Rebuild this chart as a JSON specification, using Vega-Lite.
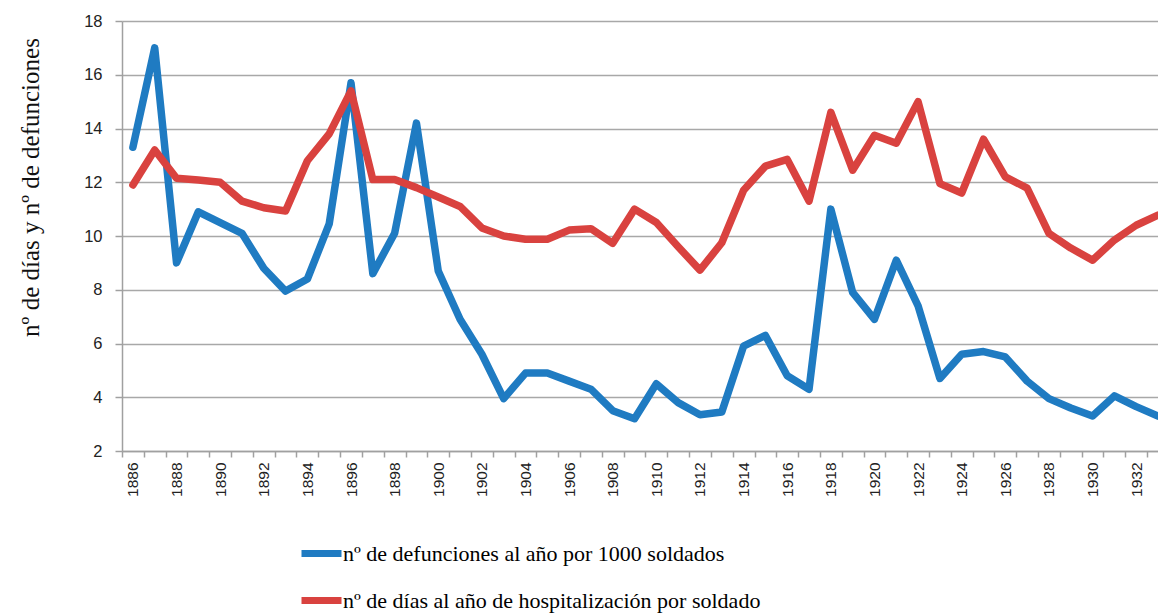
{
  "$schema": "https://vega.github.io/schema/vega-lite/v6.json",
  "width": 1036,
  "height": 430,
  "autosize": {"type": "none"},
  "padding": {"left": 122, "top": 21, "right": 0, "bottom": 162},
  "background": "white",
  "config": {
    "view": {"stroke": null},
    "axis": {"labelFont": "Liberation Sans", "labelColor": "#222", "domainColor": "#a0a0a0", "domainWidth": 1.5, "tickColor": "#a0a0a0", "tickWidth": 1.5},
    "legend": {"labelFont": "Liberation Serif", "labelFontSize": 22, "labelColor": "#000", "labelLimit": 800, "symbolType": "stroke", "symbolSize": 1600, "symbolStrokeWidth": 7, "labelOffset": -2, "rowPadding": 9}
  },
  "data": {"values": [
    {"serie": "def", "year": 1886, "v": 13.3}, {"serie": "def", "year": 1887, "v": 17.0}, {"serie": "def", "year": 1888, "v": 9.0}, {"serie": "def", "year": 1889, "v": 10.9},
    {"serie": "def", "year": 1890, "v": 10.5}, {"serie": "def", "year": 1891, "v": 10.1}, {"serie": "def", "year": 1892, "v": 8.8}, {"serie": "def", "year": 1893, "v": 7.95},
    {"serie": "def", "year": 1894, "v": 8.4}, {"serie": "def", "year": 1895, "v": 10.45}, {"serie": "def", "year": 1896, "v": 15.7}, {"serie": "def", "year": 1897, "v": 8.6},
    {"serie": "def", "year": 1898, "v": 10.1}, {"serie": "def", "year": 1899, "v": 14.2}, {"serie": "def", "year": 1900, "v": 8.7}, {"serie": "def", "year": 1901, "v": 6.9},
    {"serie": "def", "year": 1902, "v": 5.6}, {"serie": "def", "year": 1903, "v": 3.95}, {"serie": "def", "year": 1904, "v": 4.9}, {"serie": "def", "year": 1905, "v": 4.9},
    {"serie": "def", "year": 1906, "v": 4.6}, {"serie": "def", "year": 1907, "v": 4.3}, {"serie": "def", "year": 1908, "v": 3.5}, {"serie": "def", "year": 1909, "v": 3.2},
    {"serie": "def", "year": 1910, "v": 4.5}, {"serie": "def", "year": 1911, "v": 3.8}, {"serie": "def", "year": 1912, "v": 3.35}, {"serie": "def", "year": 1913, "v": 3.45},
    {"serie": "def", "year": 1914, "v": 5.9}, {"serie": "def", "year": 1915, "v": 6.3}, {"serie": "def", "year": 1916, "v": 4.8}, {"serie": "def", "year": 1917, "v": 4.3},
    {"serie": "def", "year": 1918, "v": 11.0}, {"serie": "def", "year": 1919, "v": 7.9}, {"serie": "def", "year": 1920, "v": 6.9}, {"serie": "def", "year": 1921, "v": 9.1},
    {"serie": "def", "year": 1922, "v": 7.4}, {"serie": "def", "year": 1923, "v": 4.7}, {"serie": "def", "year": 1924, "v": 5.6}, {"serie": "def", "year": 1925, "v": 5.7},
    {"serie": "def", "year": 1926, "v": 5.5}, {"serie": "def", "year": 1927, "v": 4.6}, {"serie": "def", "year": 1928, "v": 3.95}, {"serie": "def", "year": 1929, "v": 3.6},
    {"serie": "def", "year": 1930, "v": 3.3}, {"serie": "def", "year": 1931, "v": 4.05}, {"serie": "def", "year": 1932, "v": 3.65}, {"serie": "def", "year": 1933, "v": 3.3},
    {"serie": "dias", "year": 1886, "v": 11.9}, {"serie": "dias", "year": 1887, "v": 13.2}, {"serie": "dias", "year": 1888, "v": 12.15}, {"serie": "dias", "year": 1889, "v": 12.08},
    {"serie": "dias", "year": 1890, "v": 12.0}, {"serie": "dias", "year": 1891, "v": 11.3}, {"serie": "dias", "year": 1892, "v": 11.05}, {"serie": "dias", "year": 1893, "v": 10.93},
    {"serie": "dias", "year": 1894, "v": 12.8}, {"serie": "dias", "year": 1895, "v": 13.8}, {"serie": "dias", "year": 1896, "v": 15.4}, {"serie": "dias", "year": 1897, "v": 12.1},
    {"serie": "dias", "year": 1898, "v": 12.1}, {"serie": "dias", "year": 1899, "v": 11.8}, {"serie": "dias", "year": 1900, "v": 11.45}, {"serie": "dias", "year": 1901, "v": 11.1},
    {"serie": "dias", "year": 1902, "v": 10.3}, {"serie": "dias", "year": 1903, "v": 10.0}, {"serie": "dias", "year": 1904, "v": 9.88}, {"serie": "dias", "year": 1905, "v": 9.88},
    {"serie": "dias", "year": 1906, "v": 10.22}, {"serie": "dias", "year": 1907, "v": 10.27}, {"serie": "dias", "year": 1908, "v": 9.73}, {"serie": "dias", "year": 1909, "v": 11.0},
    {"serie": "dias", "year": 1910, "v": 10.5}, {"serie": "dias", "year": 1911, "v": 9.6}, {"serie": "dias", "year": 1912, "v": 8.73}, {"serie": "dias", "year": 1913, "v": 9.75},
    {"serie": "dias", "year": 1914, "v": 11.7}, {"serie": "dias", "year": 1915, "v": 12.6}, {"serie": "dias", "year": 1916, "v": 12.85}, {"serie": "dias", "year": 1917, "v": 11.3},
    {"serie": "dias", "year": 1918, "v": 14.6}, {"serie": "dias", "year": 1919, "v": 12.45}, {"serie": "dias", "year": 1920, "v": 13.75}, {"serie": "dias", "year": 1921, "v": 13.45},
    {"serie": "dias", "year": 1922, "v": 15.0}, {"serie": "dias", "year": 1923, "v": 11.95}, {"serie": "dias", "year": 1924, "v": 11.6}, {"serie": "dias", "year": 1925, "v": 13.6},
    {"serie": "dias", "year": 1926, "v": 12.2}, {"serie": "dias", "year": 1927, "v": 11.78}, {"serie": "dias", "year": 1928, "v": 10.1}, {"serie": "dias", "year": 1929, "v": 9.55},
    {"serie": "dias", "year": 1930, "v": 9.1}, {"serie": "dias", "year": 1931, "v": 9.85}, {"serie": "dias", "year": 1932, "v": 10.4}, {"serie": "dias", "year": 1933, "v": 10.78}
  ]},
  "mark": {"type": "line", "strokeWidth": 7.5, "strokeJoin": "round", "strokeCap": "round", "clip": false},
  "encoding": {
    "x": {
      "field": "year", "type": "quantitative",
      "scale": {"domain": [1885.5, 1933], "nice": false, "zero": false},
      "axis": {
        "title": null,
        "values": [1886,1887,1888,1889,1890,1891,1892,1893,1894,1895,1896,1897,1898,1899,1900,1901,1902,1903,1904,1905,1906,1907,1908,1909,1910,1911,1912,1913,1914,1915,1916,1917,1918,1919,1920,1921,1922,1923,1924,1925,1926,1927,1928,1929,1930,1931,1932,1933],
        "labelExpr": "datum.value % 2 == 0 ? datum.label : ''",
        "format": "d",
        "labelAngle": 270,
        "labelOverlap": false,
        "labelFlush": false,
        "tickOffset": -10.9,
        "labelOffset": 10.9,
        "grid": false,
        "tickSize": 6,
        "labelPadding": 5,
        "labelFontSize": 15.5
      }
    },
    "y": {
      "field": "v", "type": "quantitative",
      "scale": {"domain": [2, 18], "nice": false, "zero": false},
      "axis": {
        "title": "nº de días y nº de defunciones",
        "titleFont": "Liberation Serif",
        "titleFontSize": 25,
        "titleFontWeight": "normal",
        "titleColor": "#111",
        "titleAngle": 270,
        "titleX": -92,
        "titleY": 166,
        "titleAlign": "center",
        "titleBaseline": "middle",
        "values": [2,4,6,8,10,12,14,16,18],
        "grid": true,
        "gridColor": "#a8a8a8",
        "gridWidth": 1.5,
        "tickSize": 7,
        "labelPadding": 13,
        "labelFontSize": 16.5
      }
    },
    "color": {
      "field": "serie", "type": "nominal",
      "scale": {"domain": ["def", "dias"], "range": ["#1f7bc2", "#d9423f"]},
      "legend": {
        "title": null,
        "orient": "none",
        "legendX": 176,
        "legendY": 509,
        "direction": "vertical",
        "labelExpr": "datum.value == 'def' ? 'nº de defunciones al año por 1000 soldados' : 'nº de días al año de hospitalización por soldado'"
      }
    }
  }
}
